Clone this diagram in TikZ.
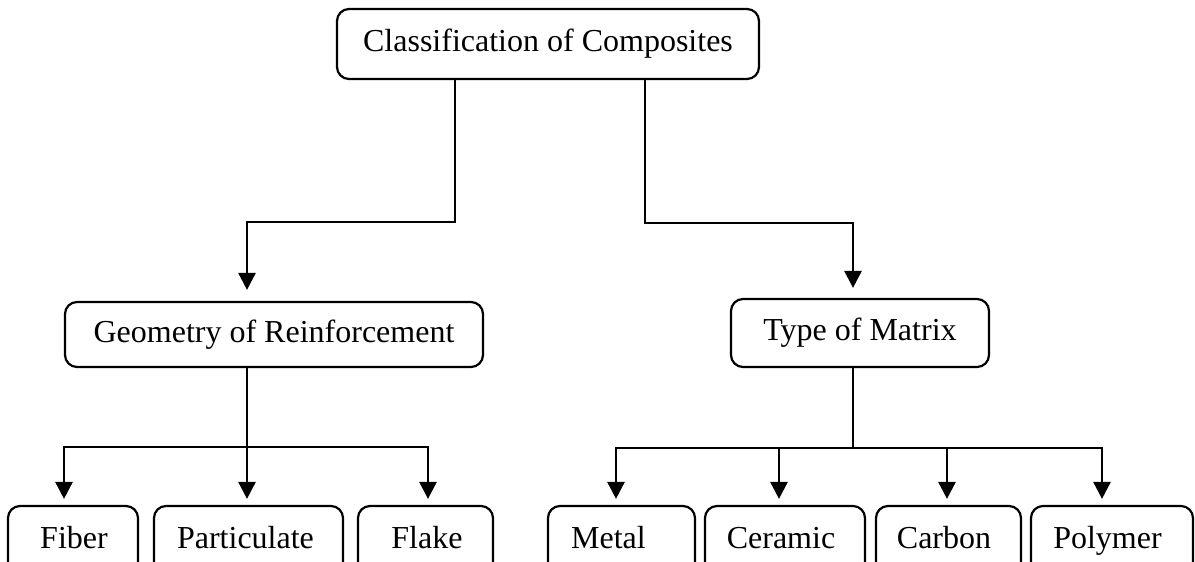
\documentclass[tikz,border=0pt]{standalone}
\usepackage{fontspec}
\setmainfont{Liberation Serif}
\usetikzlibrary{arrows.meta,calc}
\begin{document}
\begin{tikzpicture}[x=0.5pt,y=-0.5pt,
  box/.style={draw,rounded corners=6pt,line width=1.1pt,inner sep=0pt},
  lbl/.style={font=\fontsize{16}{19}\selectfont,inner sep=0pt},
  conn/.style={line width=1.35pt},
  arr/.style={conn,-{Triangle[length=8.5pt,width=8.5pt]}}]
\useasboundingbox (0,0) rectangle (1195,562);
\clip (0,0) rectangle (1195,562);
% upper boxes
\node[box,lbl,minimum width=211pt,minimum height=35pt] (top) at (548,44) {Classification of Composites};
\node[box,lbl,minimum width=209pt,minimum height=32.5pt] (geo) at (274,334.5) {Geometry of Reinforcement};
\node[box,lbl,minimum width=129pt,minimum height=34pt] (type) at (860,333) {Type of Matrix};
% bottom boxes (cut by the lower edge)
\node[box,minimum width=65pt,minimum height=35pt] (fiber) at (73,541) {};
\node[box,minimum width=94.5pt,minimum height=35pt] (part) at (248.5,541) {};
\node[box,minimum width=67.5pt,minimum height=35pt] (flake) at (425.5,541) {};
\node[box,minimum width=73.5pt,minimum height=35pt] (metal) at (621.5,541) {};
\node[box,minimum width=80pt,minimum height=35pt] (ceramic) at (785,541) {};
\node[box,minimum width=72.5pt,minimum height=35pt] (carbon) at (948.5,541) {};
\node[box,minimum width=81pt,minimum height=35pt] (polymer) at (1112,541) {};
\node[lbl,anchor=base] (fiberT) at (74,548) {Fiber};
\node[lbl,anchor=base] (partT) at (245.5,548) {Particulate};
\node[lbl,anchor=base] (flakeT) at (427,548) {Flake};
\node[lbl,anchor=base] (metalT) at (608.5,548) {Metal};
\node[lbl,anchor=base] (ceramicT) at (781,548) {Ceramic};
\node[lbl,anchor=base] (carbonT) at (944,548) {Carbon};
\node[lbl,anchor=base] (polymerT) at (1107.5,548) {Polymer};
% connectors from the top box
\draw[arr,shorten >=5.5pt] ([xshift=-46.5pt]top.south) -- ++(0,142) -| ([xshift=-13.5pt]geo.north);
\draw[arr,shorten >=5pt] ([xshift=48.5pt]top.south) -- ++(0,143) -| ([xshift=-3.5pt]type.north);
% geometry branch
\draw[conn] ([xshift=-13.5pt]geo.south) -- ++(0,79) coordinate (gj);
\draw[arr,shorten >=3pt] (gj) -| ([xshift=-4.5pt]fiber.north);
\draw[arr,shorten >=3pt] (gj) -- ([xshift=-0.75pt]part.north);
\draw[arr,shorten >=3pt] (gj) -| ([xshift=1.25pt]flake.north);
% matrix branch
\draw[conn] ([xshift=-3.5pt]type.south) -- ++(0,80) coordinate (tj);
\draw[arr,shorten >=3pt] (tj) -| ([xshift=-2.75pt]metal.north);
\draw[arr,shorten >=3pt] (tj) -| ([xshift=-3pt]ceramic.north);
\draw[arr,shorten >=3pt] (tj) -| ([xshift=-0.75pt]carbon.north);
\draw[arr,shorten >=3pt] (tj) -| ([xshift=-5pt]polymer.north);
\end{tikzpicture}
\end{document}
